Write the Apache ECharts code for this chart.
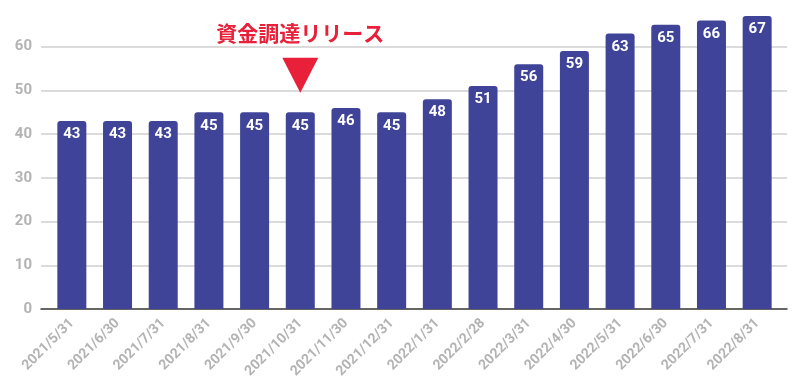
<!DOCTYPE html>
<html><head><meta charset="utf-8">
<script src="https://cdn.jsdelivr.net/npm/echarts@6/dist/echarts.min.js"></script>
<style>html,body{margin:0;padding:0;background:#fff}#c{width:800px;height:383px}</style>
</head><body><div id="c"></div>
<script>
const categories = ['2021/5/31','2021/6/30','2021/7/31','2021/8/31','2021/9/30','2021/10/31','2021/11/30','2021/12/31','2022/1/31','2022/2/28','2022/3/31','2022/4/30','2022/5/31','2022/6/30','2022/7/31','2022/8/31'];
const values = [43,43,43,45,45,45,46,45,48,51,56,59,63,65,66,67];
const yTicks = [0,10,20,30,40,50,60];
const annotationText = '資金調達リリース';
const annotationCategory = '2021/10/31';
const annotationValue = 53.5;

const chart = echarts.init(document.getElementById('c'), null, {renderer:'canvas'});
chart.setOption({
  animation:false,
  backgroundColor:'#fff',
  grid:[
    {left:49, right:20, top:3, bottom:74, containLabel:false},
    {left:41, right:13, top:3, bottom:74, containLabel:false, z:0}
  ],
  xAxis:[{
    gridIndex:0, type:'category', data:categories,
    axisLine:{show:false},
    axisTick:{show:false},
    axisLabel:{rotate:45, color:'#b3b3b3', fontWeight:'bold', fontSize:14, fontFamily:'Roboto, Arial', margin:12, interval:0}
  },{
    gridIndex:1, type:'value', min:0, max:1, z:0,
    axisLine:{show:true, onZero:false, lineStyle:{color:'#333', width:1.5}},
    axisTick:{show:false}, axisLabel:{show:false}, splitLine:{show:false}
  }],
  yAxis:[{
    gridIndex:0, type:'value', min:0, max:70, interval:10,
    axisLine:{show:false}, axisTick:{show:false}, axisLabel:{show:false}, splitLine:{show:false}
  },{
    gridIndex:1, type:'value', min:0, max:70, interval:10, z:0,
    axisLine:{show:false}, axisTick:{show:false},
    axisLabel:{color:'#b3b3b3', fontWeight:'bold', fontSize:15, fontFamily:'Roboto, Arial', margin:9, showMaxLabel:false,
      formatter:v => yTicks.includes(v) ? String(v) : ''},
    splitLine:{show:true, showMaxLine:false, showMinLine:false, lineStyle:{color:'#cfcfcf', width:1.5}}
  }],
  series:[{
    type:'bar', xAxisIndex:0, yAxisIndex:0, data:values, barWidth:29, z:3,
    itemStyle:{color:'#404498', borderRadius:[3,3,0,0]},
    label:{show:true, position:'insideTop', distance:6, color:'#fff', fontWeight:'bold', fontSize:15, fontFamily:'Roboto, Arial'},
    markPoint:{
      silent:true,
      data:[{
        coord:[annotationCategory, annotationValue],
        symbol:'triangle', symbolRotate:180, symbolSize:[36,35],
        itemStyle:{color:'#e8203a'},
        label:{show:true, position:'top', distance:14, formatter:annotationText, color:'#e8203a', fontSize:21, fontWeight:'bold', fontFamily:'"Noto Sans CJK JP", sans-serif'}
      }]
    }
  }]
});
</script></body></html>
